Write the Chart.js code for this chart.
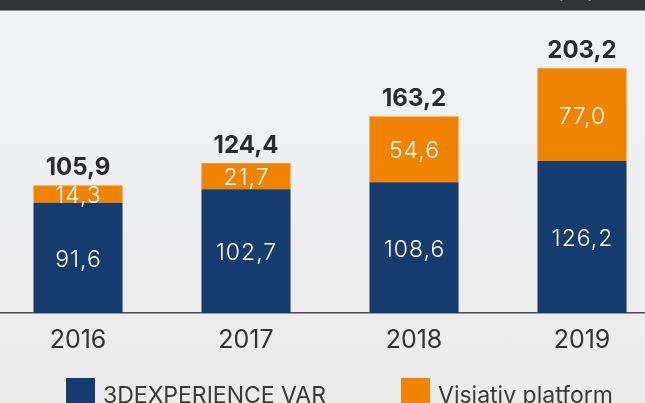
<!DOCTYPE html>
<html>
<head>
<meta charset="utf-8">
<script src="https://cdn.jsdelivr.net/npm/chart.js@4.4.1/dist/chart.umd.min.js"></script>
<style>
html, body { margin: 0; padding: 0; width: 645px; height: 403px; overflow: hidden; }
body { position: relative; background: linear-gradient(#f1f2f5, #ebebeb); font-family: Inter, sans-serif; }
#band { position: absolute; left: 0; top: 0; width: 645px; height: 10px; background: #333436; border-bottom: 1px solid #8d8f92; z-index: 2; overflow: hidden; }
#band span { position: absolute; left: 557px; top: -17px; color: #fff; font-size: 16px; }
#wrap { position: absolute; left: -6px; top: 0; width: 672px; height: 420px; }
#legend { position: absolute; left: 66px; top: 378px; display: flex; gap: 75px; }
#legend .item { display: flex; align-items: flex-start; }
#legend .box { width: 29px; height: 29px; margin-right: 8px; }
#legend .text { font-size: 23px; color: #3a3a3a; line-height: 34px; margin-top: 0px; white-space: nowrap; }
</style>
</head>
<body>
<div id="band"><span>(M€)</span></div>
<div id="wrap"><canvas id="chart"></canvas></div>
<div id="legend"></div>
<script>
const years = ['2016', '2017', '2018', '2019'];
const varRevenue = [91.6, 102.7, 108.6, 126.2];
const platformRevenue = [14.3, 21.7, 54.6, 77.0];
const seriesNames = ['3DEXPERIENCE VAR', 'Visiativ platform'];
const totals = years.map((y, i) => varRevenue[i] + platformRevenue[i]);

const fmt = v => v.toFixed(1).replace('.', ',');

// values inside the bars + totals on top
const valueLabels = {
  id: 'valueLabels',
  afterDatasetsDraw(chart) {
    const ctx = chart.ctx;
    ctx.save();
    ctx.textAlign = 'center';
    ctx.textBaseline = 'middle';
    ctx.fillStyle = '#ffffff';
    ctx.font = '300 23px Inter';
    ctx.letterSpacing = '1px';
    chart.data.datasets.forEach((ds, i) => {
      chart.getDatasetMeta(i).data.forEach((bar, j) => {
        ctx.fillText(fmt(ds.data[j]), bar.x + 0.5, (bar.y + bar.base) / 2 + 2);
      });
    });
    const topBars = chart.getDatasetMeta(chart.data.datasets.length - 1).data;
    ctx.letterSpacing = '0px';
    ctx.textBaseline = 'alphabetic';
    ctx.fillStyle = '#2b2b2b';
    ctx.font = 'bold 24px Inter';
    topBars.forEach((bar, j) => ctx.fillText(fmt(totals[j]), bar.x, bar.y - 10));
    ctx.restore();
  }
};

let ctx = document.getElementById('chart');

var revenueChart = new Chart(ctx, {
  type: 'bar',
  data: {
    labels: years,
    datasets: [{
      label: seriesNames[0],
      data: varRevenue,
      backgroundColor: '#163b6f',
      borderWidth: 0
    }, {
      label: seriesNames[1],
      data: platformRevenue,
      backgroundColor: '#f08300',
      borderWidth: 0
    }]
  },
  options: {
    responsive: true,
    maintainAspectRatio: false,
    animation: false,
    layout: { padding: { top: 42, left: 0, right: 0, bottom: 53 } },
    datasets: { bar: { barPercentage: 0.53, categoryPercentage: 1 } },
    scales: {
      x: {
        stacked: true,
        grid: { display: false, drawTicks: false },
        border: { display: true, color: '#4a4a4a', width: 1.5 },
        ticks: { color: '#333333', font: { family: 'Inter', size: 25 }, padding: 12 }
      },
      y: { stacked: true, display: false, min: 0, max: 225 }
    },
    plugins: {
      legend: { display: false },
      tooltip: { enabled: false }
    }
  },
  plugins: [valueLabels]
});

// html legend from the datasets
const legendEl = document.getElementById('legend');
revenueChart.data.datasets.forEach(ds => {
  const item = document.createElement('div');
  item.className = 'item';
  item.innerHTML = '<div class="box" style="background:' + ds.backgroundColor + '"></div><div class="text">' + ds.label + '</div>';
  legendEl.appendChild(item);
});
</script>
</body>
</html>
